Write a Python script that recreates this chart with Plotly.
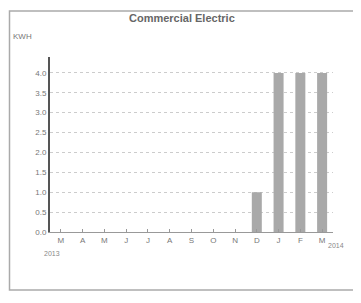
import plotly.graph_objects as go

months = ["M", "A", "M", "J", "J", "A", "S", "O", "N", "D", "J", "F", "M"]
kwh = [0, 0, 0, 0, 0, 0, 0, 0, 0, 1.0, 4.0, 4.0, 4.0]
y_ticks = [0.0, 0.5, 1.0, 1.5, 2.0, 2.5, 3.0, 3.5, 4.0]
y_tick_labels = ["0.0", "0.5", "1.0", "1.5", "2.0", "2.5", "3.0", "3.5", "4.0"]
cats = list(range(len(months)))

fig = go.Figure()
fig.add_trace(go.Bar(
    x=cats, y=kwh,
    marker=dict(color="#a9a9a9", line=dict(width=0)),
    width=0.46,
))

OFF = 8  # page body margin
W, H = 361 - OFF, 303 - OFF
ml, mr, mt, mb = 50 - OFF, 28, 57 - OFF, 71
pw, ph = W - ml - mr, H - mt - mb

def px(x):
    return (x - OFF - ml) / pw

def py(y):
    return (H - mb - (y - OFF)) / ph

def note(text, x, y, size, color):
    return dict(text=text, xref="paper", yref="paper", x=px(x), y=py(y),
                xanchor="center", yanchor="middle", showarrow=False,
                font=dict(size=size, color=color))

fig.update_layout(
    width=W, height=H,
    margin=dict(l=ml, r=mr, t=mt, b=mb),
    paper_bgcolor="white", plot_bgcolor="white",
    showlegend=False,
    font=dict(family="Liberation Sans, Arial, sans-serif", color="#777", size=8),
    xaxis=dict(
        tickmode="array", tickvals=cats, ticktext=months,
        range=[-0.5, len(months) - 0.5],
        showline=True, linecolor="#999", linewidth=1,
        showgrid=False, ticks="inside", ticklen=3, tickcolor="#999",
        tickson="boundaries", tickfont=dict(size=8, color="#777"),
        fixedrange=True,
    ),
    yaxis=dict(
        range=[0, 4.4], tickvals=y_ticks, ticktext=y_tick_labels,
        showline=True, linecolor="#555", linewidth=2,
        showgrid=True, gridcolor="#cccccc", griddash="dot", gridwidth=1,
        zeroline=False, ticks="", tickfont=dict(size=8, color="#777"),
        fixedrange=True,
    ),
    annotations=[
        note("<b>Commercial Electric</b>", 182, 18, 11, "#666"),
        note("KWH", 22, 37, 8, "#777"),
        note("2013", 52, 253, 7, "#888"),
        note("2014", 336, 245, 7, "#888"),
    ],
    shapes=[
        dict(type="rect", xref="paper", yref="paper",
             x0=px(9.5), x1=px(357), y0=py(290), y1=py(11),
             line=dict(color="#aaa", width=1.5)),
    ],
)

fig.write_html("out.html")
